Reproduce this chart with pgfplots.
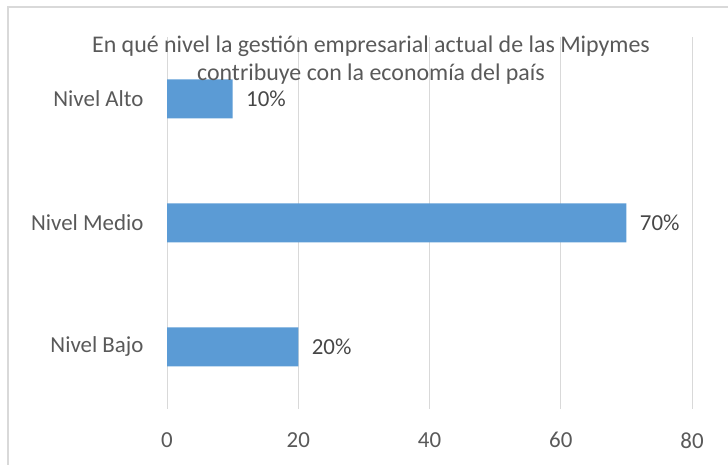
\documentclass[border=0pt]{standalone}
\usepackage{pgfplots}
\pgfplotsset{compat=1.18}
\usepackage{fontspec}
\setmainfont{Carlito}
\definecolor{barblue}{HTML}{5B9BD5}
\definecolor{txt}{HTML}{595959}
\definecolor{grd}{HTML}{D9D9D9}
\begin{document}
\begin{tikzpicture}[x=1bp,y=1bp]
\useasboundingbox (0,0) rectangle (728,465);
\draw[grd, line width=1.2bp] (8,0) -- (8,458) -- (728,458);
\begin{axis}[
  at={(167bp,56bp)}, anchor=south west,
  scale only axis, width=525bp, height=372bp,
  xbar, bar width=39bp,
  xmin=0, xmax=80, ymin=-0.5, ymax=2.5,
  xtick={0,20,40,60,80},
  ytick={0,1,2},
  yticklabels={Nivel Bajo, Nivel Medio, Nivel Alto},
  axis line style={draw=none},
  major tick length=0pt,
  xmajorgrids, grid style={grd, line width=1bp},
  ticklabel style={font=\fontsize{23}{27}\selectfont, text=txt},
  /pgf/number format/assume math mode=true,
  xticklabel style={yshift=-20bp},
  yticklabel style={xshift=-20bp},
  nodes near coords={\pgfmathprintnumber{\pgfplotspointmeta}\%},
  nodes near coords style={font=\fontsize{23}{27}\selectfont, text=txt!80!black, anchor=west, xshift=10bp},
  clip=false,
]
\addplot[fill=barblue, draw=none] coordinates {(20,0) (70,1) (10,2)};
\end{axis}
\node[align=center, text=txt, font=\fontsize{24}{28}\selectfont] at (371,405) {En qué nivel la gestión empresarial actual de las Mipymes\\contribuye con la economía del país};
\end{tikzpicture}
\end{document}
